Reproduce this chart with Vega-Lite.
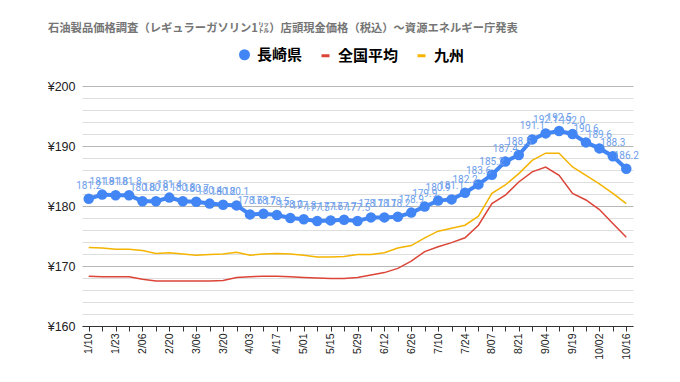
{
  "$schema": "https://vega.github.io/schema/vega-lite/v6.json",
  "autosize": {"type": "none"},
  "padding": {"left": 82, "top": 86, "right": 47, "bottom": 56},
  "width": 551,
  "height": 240,
  "background": "white",
  "title": {
    "text": "石油製品価格調査（レギュラーガソリン1㍑）店頭現金価格（税込）～資源エネルギー庁発表",
    "anchor": "start",
    "frame": "group",
    "dx": -34,
    "offset": 13,
    "font": "Noto Sans CJK JP",
    "fontSize": 11.3,
    "fontWeight": "bold",
    "color": "#757575"
  },
  "config": {"view": {"stroke": null}},
  "data": {
    "values": [
      {"week": "1/10", "長崎県": 181.2, "全国平均": 168.3, "九州": 173.1},
      {"week": "1/17", "長崎県": 181.9, "全国平均": 168.2, "九州": 173.0},
      {"week": "1/23", "長崎県": 181.8, "全国平均": 168.2, "九州": 172.8},
      {"week": "1/30", "長崎県": 181.8, "全国平均": 168.2, "九州": 172.8},
      {"week": "2/06", "長崎県": 180.8, "全国平均": 167.8, "九州": 172.6},
      {"week": "2/13", "長崎県": 180.8, "全国平均": 167.5, "九州": 172.1},
      {"week": "2/20", "長崎県": 181.4, "全国平均": 167.5, "九州": 172.2},
      {"week": "2/27", "長崎県": 180.8, "全国平均": 167.5, "九州": 172.0},
      {"week": "3/06", "長崎県": 180.7, "全国平均": 167.5, "九州": 171.8},
      {"week": "3/13", "長崎県": 180.4, "全国平均": 167.5, "九州": 171.9},
      {"week": "3/20", "長崎県": 180.2, "全国平均": 167.6, "九州": 172.0},
      {"week": "3/27", "長崎県": 180.1, "全国平均": 168.1, "九州": 172.3},
      {"week": "4/03", "長崎県": 178.6, "全国平均": 168.2, "九州": 171.8},
      {"week": "4/10", "長崎県": 178.7, "全国平均": 168.3, "九州": 172.0},
      {"week": "4/17", "長崎県": 178.5, "全国平均": 168.3, "九州": 172.1},
      {"week": "4/24", "長崎県": 178.0, "全国平均": 168.2, "九州": 172.0},
      {"week": "5/01", "長崎県": 177.8, "全国平均": 168.1, "九州": 171.8},
      {"week": "5/08", "長崎県": 177.5, "全国平均": 168.0, "九州": 171.5},
      {"week": "5/15", "長崎県": 177.6, "全国平均": 167.9, "九州": 171.5},
      {"week": "5/22", "長崎県": 177.7, "全国平均": 167.9, "九州": 171.6},
      {"week": "5/29", "長崎県": 177.5, "全国平均": 168.1, "九州": 171.9},
      {"week": "6/05", "長崎県": 178.1, "全国平均": 168.5, "九州": 171.9},
      {"week": "6/12", "長崎県": 178.1, "全国平均": 168.9, "九州": 172.2},
      {"week": "6/19", "長崎県": 178.2, "全国平均": 169.6, "九州": 173.0},
      {"week": "6/26", "長崎県": 178.9, "全国平均": 170.8, "九州": 173.4},
      {"week": "7/03", "長崎県": 179.9, "全国平均": 172.4, "九州": 174.7},
      {"week": "7/10", "長崎県": 180.9, "全国平均": 173.2, "九州": 175.8},
      {"week": "7/17", "長崎県": 181.1, "全国平均": 173.9, "九州": 176.3},
      {"week": "7/24", "長崎県": 182.2, "全国平均": 174.7, "九州": 176.8},
      {"week": "7/31", "長崎県": 183.6, "全国平均": 176.8, "九州": 178.3},
      {"week": "8/07", "長崎県": 185.2, "全国平均": 180.4, "九州": 182.1},
      {"week": "8/14", "長崎県": 187.4, "全国平均": 181.8, "九州": 183.5},
      {"week": "8/21", "長崎県": 188.5, "全国平均": 184.0, "九州": 185.4},
      {"week": "8/28", "長崎県": 191.1, "全国平均": 185.7, "九州": 187.6},
      {"week": "9/04", "長崎県": 192.1, "全国平均": 186.5, "九州": 188.8},
      {"week": "9/11", "長崎県": 192.5, "全国平均": 185.1, "九州": 188.8},
      {"week": "9/19", "長崎県": 192.0, "全国平均": 182.1, "九州": 186.5},
      {"week": "9/25", "長崎県": 190.6, "全国平均": 181.0, "九州": 185.1},
      {"week": "10/02", "長崎県": 189.6, "全国平均": 179.4, "九州": 183.7},
      {"week": "10/09", "長崎県": 188.3, "全国平均": 177.1, "九州": 182.1},
      {"week": "10/16", "長崎県": 186.2, "全国平均": 174.8, "九州": 180.4}
    ]
  },
  "transform": [{"fold": ["長崎県", "全国平均", "九州"], "as": ["series", "price"]}],
  "encoding": {
    "x": {
      "field": "week",
      "type": "ordinal",
      "sort": null,
      "scale": {"type": "point", "padding": 0.5},
      "axis": {
        "title": null,
        "labelAngle": -90,
        "labelOverlap": false,
        "labelExpr": "indexof(['1/10','1/23','2/06','2/20','3/06','3/20','4/03','4/17','5/01','5/15','5/29','6/12','6/26','7/10','7/24','8/07','8/21','9/04','9/19','10/02','10/16'], datum.value) >= 0 ? datum.value : ''",
        "labelFont": "Liberation Sans",
        "labelFontSize": 10.5,
        "labelColor": "#222222",
        "labelPadding": 2,
        "tickColor": "#333333",
        "tickSize": 5,
        "domainColor": "#333333",
        "grid": false
      }
    },
    "y": {
      "field": "price",
      "type": "quantitative",
      "scale": {"domain": [160, 200], "nice": false, "zero": false},
      "axis": {
        "title": null,
        "values": [160, 162, 164, 166, 168, 170, 172, 174, 176, 178, 180, 182, 184, 186, 188, 190, 192, 194, 196, 198, 200],
        "labelExpr": "datum.value % 10 === 0 ? '¥' + datum.value : ''",
        "domain": false,
        "ticks": false,
        "labelPadding": 7,
        "labelFont": "Liberation Sans",
        "labelFontSize": 12.5,
        "labelColor": "#222222",
        "gridColor": {"condition": {"test": "datum.value % 10 === 0", "value": "#b7b7b7"}, "value": "#dedede"}
      }
    },
    "color": {
      "field": "series",
      "type": "nominal",
      "scale": {"domain": ["長崎県", "全国平均", "九州"], "range": ["#4285F4", "#DB4437", "#F4B400"]},
      "legend": {
        "orient": "none",
        "legendX": 155,
        "legendY": -39,
        "direction": "horizontal",
        "title": null,
        "labelFont": "Noto Sans CJK JP",
        "labelFontSize": 15,
        "labelFontWeight": "bold",
        "labelColor": "#000000",
        "symbolSize": 64,
        "symbolStrokeWidth": 3,
        "columnPadding": 12,
        "labelOffset": 5,
        "encode": {
          "symbols": {
            "update": {
              "shape": {"signal": "datum.value === '長崎県' ? 'circle' : 'stroke'"},
              "fill": {"signal": "datum.value === '長崎県' ? scale('color', datum.value) : 'transparent'"},
              "stroke": {"signal": "datum.value === '長崎県' ? 'transparent' : scale('color', datum.value)"}
            }
          }
        }
      }
    }
  },
  "layer": [
    {
      "transform": [{"filter": "datum.series !== '長崎県'"}],
      "mark": {"type": "line", "strokeWidth": 1.5}
    },
    {
      "transform": [{"filter": "datum.series === '長崎県'"}],
      "mark": {"type": "line", "strokeWidth": 4}
    },
    {
      "transform": [{"filter": "datum.series === '長崎県'"}],
      "mark": {"type": "circle", "size": 110, "opacity": 1}
    },
    {
      "transform": [{"filter": "datum.series === '長崎県'"}],
      "mark": {"type": "text", "dy": -13, "fontSize": 10, "font": "Roboto", "color": "#6d9eeb"},
      "encoding": {
        "text": {"field": "price", "type": "quantitative", "format": ".1f"},
        "color": {"value": "#6d9eeb"}
      }
    }
  ]
}
